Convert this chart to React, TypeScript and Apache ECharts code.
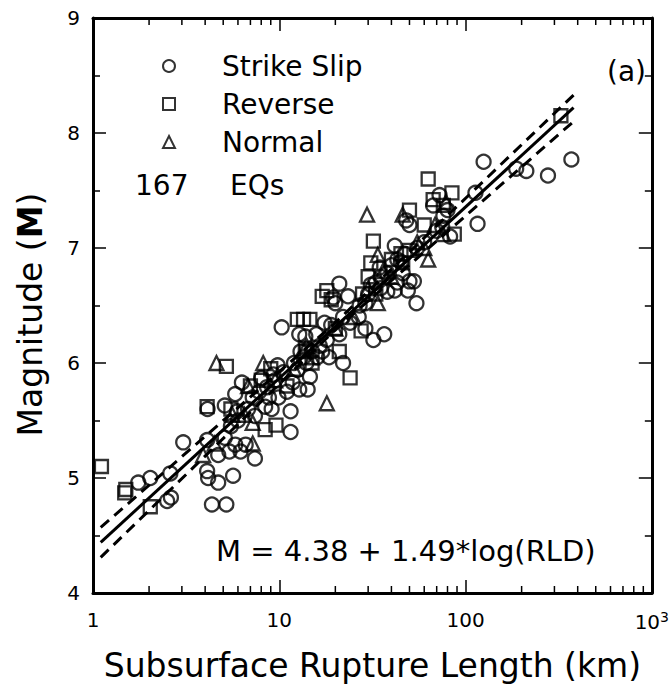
import { useRef, useEffect } from "react";
import * as echarts from "echarts";

const FONT = "DejaVu Sans";

// [rupture length km, magnitude]
const strikeSlip: number[][] = [
  [1.75, 4.96], [2.03, 5.0], [2.6, 5.04], [2.5, 4.8], [2.62, 4.83], [3.05, 5.31],
  [4.1, 5.33], [4.1, 5.06], [4.15, 5.0], [4.35, 4.77], [5.2, 4.77], [4.7, 4.96],
  [5.65, 5.02], [5.4, 5.23], [5.1, 5.35], [4.7, 5.2], [4.12, 5.6], [5.1, 5.63],
  [5.8, 5.73], [6.3, 5.83], [5.95, 5.58], [5.8, 5.29], [6.6, 5.29], [6.2, 5.23],
  [7.4, 5.17], [7.4, 5.54], [8.0, 5.87], [8.6, 5.79], [9.1, 5.6], [8.4, 5.62],
  [9.3, 5.9], [9.8, 5.98], [10.3, 6.31], [11.5, 5.58], [11.5, 5.4], [11.8, 5.83],
  [12.5, 5.94], [12.8, 5.77], [14.2, 5.77], [14.6, 5.88], [12.8, 6.25], [13.8, 6.23],
  [15.8, 6.25], [17, 6.1], [22, 6.0], [21, 6.69], [23.4, 6.58], [20, 6.52],
  [19, 6.33], [21, 6.25], [22, 6.4], [32, 6.2], [36.6, 6.25], [29, 6.3],
  [26.7, 6.4], [29, 6.52], [41.7, 7.02], [43, 6.9], [34.6, 6.83], [41.7, 6.63],
  [49, 6.63], [50, 6.71], [54.5, 6.52], [52.8, 6.71], [50, 7.2], [48, 7.24],
  [67, 7.37], [72.5, 7.46], [80, 7.33], [82.6, 7.1], [76, 7.28], [116, 7.21],
  [113, 7.48], [125, 7.75], [187, 7.69], [212, 7.67], [277, 7.63], [370, 7.77],
  [6.8, 5.6], [7.2, 5.7], [7.8, 5.75], [9.5, 5.85], [10.5, 5.92], [13.5, 6.05],
  [15, 6.1], [16.5, 6.15], [18, 6.2], [14, 6.0], [17.5, 6.35], [19.5, 6.57],
  [24, 6.35], [27, 6.5], [30, 6.6], [31, 6.68], [33, 6.7], [35, 6.75],
  [38, 6.78], [40, 6.85], [45, 6.88], [47, 6.95], [55, 7.0], [60, 7.05],
  [70, 7.15], [75, 7.18], [5.5, 5.45], [6.0, 5.5], [16, 6.05], [18.5, 6.05],
  [13, 6.1], [12, 6.0], [11, 5.75], [9.9, 5.7], [8.8, 5.7], [35, 6.65],
  [43, 6.7], [38, 6.62], [46, 6.78],
];

const reverse: number[][] = [
  [1.11, 5.1], [1.48, 4.87], [1.5, 4.9], [2.03, 4.75], [4.1, 5.62], [5.2, 5.97],
  [8.4, 5.42], [9.6, 5.46], [12.5, 6.38], [13.5, 6.38], [14.6, 6.38], [13.8, 6.13],
  [17, 6.58], [18, 6.63], [21, 6.1], [24, 5.87], [27.5, 6.28], [32, 7.06],
  [31, 6.87], [50, 6.98], [46, 6.87], [50, 7.33], [63, 7.6], [67, 7.42],
  [84.5, 7.48], [76, 7.37], [87, 7.12], [325, 8.15], [9, 5.95], [7, 5.8],
  [8, 5.85], [19, 6.55], [20, 6.3], [15, 6.0], [28, 6.6], [30, 6.75],
  [40, 6.9], [60, 7.2], [11, 5.8], [5.5, 5.6], [33, 6.6], [45, 6.95], [14, 6.1],
];

const normal: number[][] = [
  [3.9, 5.2], [7.2, 5.3], [4.6, 6.0], [7.2, 5.48], [8.2, 6.0], [18, 5.65],
  [29.6, 7.29], [33.8, 6.94], [33.8, 6.52], [46, 7.29], [63, 6.9], [68.5, 7.2],
  [78.5, 7.4], [76, 7.12], [6.5, 5.55], [5.6, 5.55], [9.5, 5.85], [12, 5.95],
  [15, 6.05], [20, 6.3], [25, 6.4], [30, 6.65], [36, 6.8], [40, 6.75],
  [55, 7.05], [6.8, 5.8], [4.5, 5.3], [14, 6.15], [60, 7.0],
];

// regression and its confidence band
const fitLine = [[1.1, 4.44], [380, 8.22]];
const upperBand = [[1.1, 4.57], [20, 6.35], [380, 8.33]];
const lowerBand = [[1.1, 4.31], [20, 6.29], [380, 8.1]];

const minorX = [2, 3, 4, 5, 6, 7, 8, 9, 20, 30, 40, 50, 60, 70, 80, 90, 200, 300, 400, 500, 600, 700, 800, 900];

export default function App() {
  const chartRef = useRef<HTMLDivElement>(null);

  useEffect(() => {
    if (!chartRef.current) return;
    const chart = echarts.init(chartRef.current, null, { renderer: "svg" });

    const markerStyle = { color: "transparent", borderColor: "#000", borderWidth: 2.3 };
    const scatter = (name: string, symbol: string, data: number[][], size: number) => ({
      name,
      type: "scatter",
      symbol,
      symbolSize: size,
      data,
      itemStyle: markerStyle,
      emphasis: { disabled: true },
      z: 2,
    });
    const line = (data: number[][], type: any) => ({
      type: "line",
      data,
      showSymbol: false,
      symbol: "none",
      lineStyle: { color: "#000", width: 3, type },
      z: 3,
    });

    const xAxisBase = {
      type: "log",
      logBase: 10,
      min: 1,
      max: 1000,
      axisLine: { lineStyle: { color: "#000", width: 3 } },
      axisTick: { inside: true, length: 13, lineStyle: { color: "#000", width: 1.5 } },
      splitLine: { show: false },
    };
    const yAxisBase = {
      type: "value",
      min: 4,
      max: 9,
      interval: 1,
      axisLine: { show: true, lineStyle: { color: "#000", width: 3 } },
      axisTick: { show: true, inside: true, length: 13, lineStyle: { color: "#000", width: 1.5 } },
      minorTick: { show: true, splitNumber: 2, length: 7, lineStyle: { color: "#000", width: 1.5 } },
      splitLine: { show: false },
    };

    chart.setOption({
      animation: false,
      textStyle: { fontFamily: FONT },
      grid: { left: 93, right: 10, top: 18, bottom: 99 },
      legend: {
        orient: "vertical",
        left: 157,
        top: 46,
        itemWidth: 12,
        itemHeight: 12,
        itemGap: 8,
        selectedMode: false,
        data: [
          { name: "Strike Slip", icon: "circle" },
          { name: "Reverse", icon: "rect" },
          { name: "Normal", icon: "triangle" },
        ],
        textStyle: { fontFamily: FONT, fontSize: 28, color: "#000", lineHeight: 30, padding: [0, 0, 0, 42] },
      },
      xAxis: [
        {
          ...xAxisBase,
          position: "bottom",
          name: "Subsurface Rupture Length (km)",
          nameLocation: "middle",
          nameGap: 56,
          nameTextStyle: { fontFamily: FONT, fontSize: 33, color: "#000" },
          axisLabel: {
            color: "#000",
            fontFamily: FONT,
            fontSize: 20,
            margin: 17,
            formatter: (v: number) => (v === 1000 ? "10{sup|3}" : String(v)),
            rich: { sup: { fontSize: 14, verticalAlign: "top", padding: [0, 0, 10, 0], color: "#000", fontFamily: FONT } },
          },
        },
        { ...xAxisBase, position: "top", axisLabel: { show: false } },
      ],
      yAxis: [
        {
          ...yAxisBase,
          position: "left",
          name: "Magnitude ({b|M})",
          nameLocation: "middle",
          nameGap: 46,
          nameTextStyle: {
            fontFamily: FONT,
            fontSize: 33,
            color: "#000",
            padding: [0, 18, 0, 0],
            rich: { b: { fontFamily: FONT, fontSize: 33, fontWeight: "bold", color: "#000" } },
          },
          axisLabel: { color: "#000", fontFamily: FONT, fontSize: 20, margin: 13 },
        },
        { ...yAxisBase, position: "right", axisLabel: { show: false } },
      ],
      graphic: [
        { type: "text", left: 135, top: 171, style: { text: "167", font: `28px "${FONT}"`, fill: "#000" } },
        { type: "text", left: 230, top: 171, style: { text: "EQs", font: `28px "${FONT}"`, fill: "#000" } },
        { type: "text", left: 607, top: 57, style: { text: "(a)", font: `28px "${FONT}"`, fill: "#000" } },
        {
          type: "text",
          left: 216,
          top: 536,
          style: { text: "M = 4.38 + 1.49*log(RLD)", font: `29px "${FONT}"`, fill: "#000" },
        },
      ],
      series: [
        scatter("Strike Slip", "circle", strikeSlip, 14),
        scatter("Reverse", "rect", reverse, 13),
        scatter("Normal", "triangle", normal, 14),
        line(fitLine, "solid"),
        line(upperBand, [11, 7]),
        line(lowerBand, [11, 7]),
        {
          type: "custom",
          data: minorX.map((v) => [v, 4]),
          clip: false,
          silent: true,
          z: 4,
          renderItem: (_params: any, api: any) => {
            const v = api.value(0);
            const b = api.coord([v, 4]);
            const t = api.coord([v, 9]);
            const stroke = { stroke: "#000", lineWidth: 1.5 };
            return {
              type: "group",
              children: [
                { type: "line", shape: { x1: b[0], y1: b[1], x2: b[0], y2: b[1] - 7 }, style: stroke },
                { type: "line", shape: { x1: t[0], y1: t[1], x2: t[0], y2: t[1] + 7 }, style: stroke },
              ],
            };
          },
        },
      ],
    });

    return () => {
      chart.dispose();
    };
  }, []);

  return <div ref={chartRef} style={{ position: "absolute", left: 0, top: 0, width: 672, height: 692 }} />;
}
